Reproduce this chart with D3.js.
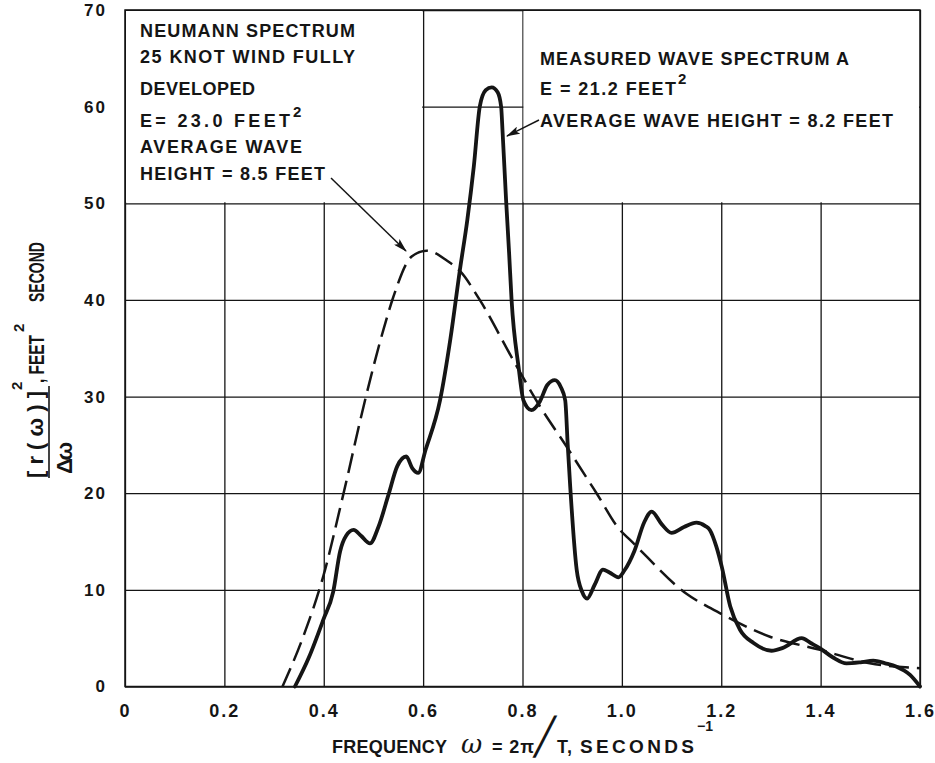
<!DOCTYPE html>
<html>
<head>
<meta charset="utf-8">
<script src="https://cdn.jsdelivr.net/npm/d3@7"></script>
<style>
  body { margin: 0; background: #fff; }
</style>
</head>
<body>
<svg id="chart" width="935" height="763"></svg>
<script>
// Axis ticks
const xTicks = [0, 0.2, 0.4, 0.6, 0.8, 1.0, 1.2, 1.4, 1.6];
const xTickLabels = ["0", "0.2", "0.4", "0.6", "0.8", "1.0", "1.2", "1.4", "1.6"];
const yTicks = [0, 10, 20, 30, 40, 50, 60, 70];
const yTickLabels = ["0", "10", "20", "30", "40", "50", "60", "70"];

// Measured wave spectrum A (solid)
const measuredFreq = [0.342, 0.37, 0.399, 0.419, 0.433, 0.445, 0.460, 0.475, 0.493, 0.510, 0.530, 0.548, 0.566, 0.578, 0.590,
  0.605, 0.634, 0.655, 0.674, 0.689, 0.702, 0.714, 0.726, 0.738, 0.750, 0.757, 0.760, 0.767, 0.773, 0.778, 0.792, 0.802,
  0.818, 0.835, 0.850, 0.865, 0.877, 0.886, 0.891, 0.896, 0.909, 0.920, 0.930, 0.945, 0.962, 0.975, 0.993, 1.005, 1.025,
  1.045, 1.060, 1.080, 1.100, 1.125, 1.150, 1.168, 1.177, 1.190, 1.201, 1.218, 1.238, 1.265, 1.301, 1.324, 1.362, 1.380,
  1.399, 1.425, 1.452, 1.480, 1.506, 1.530, 1.553, 1.580, 1.600];
const measuredValue = [0, 3.0, 6.9, 9.8, 14.0, 15.6, 16.2, 15.6, 14.8, 16.5, 19.8, 22.8, 23.8, 22.6, 22.1,
  24.5, 29.6, 36.0, 43.1, 48.3, 53.8, 60.0, 61.7, 62.0, 61.5, 60.0, 57.3, 50.3, 44.9, 40.0, 33.1, 29.6,
  28.6, 29.5, 31.2, 31.7, 31.0, 29.6, 25.0, 20.7, 12.1, 9.8, 9.1, 10.5, 12.1, 11.8, 11.3, 12.0, 14.0,
  17.0, 18.1, 16.8, 15.9, 16.5, 16.95, 16.6, 16.2, 14.5, 12.4, 8.3, 5.85, 4.5, 3.7, 4.0, 5.0, 4.5,
  3.95, 3.0, 2.4, 2.5, 2.67, 2.4, 2.05, 1.2, 0];

// Neumann spectrum, 25 knot wind fully developed (dashed)
const neumannFreq = [0.317, 0.359, 0.399, 0.439, 0.483, 0.520, 0.540, 0.577, 0.607, 0.647, 0.674, 0.714, 0.781, 0.835,
  0.889, 0.949, 0.996, 1.016, 1.130, 1.197, 1.298, 1.399, 1.499, 1.600];
const neumannValue = [0, 5.2, 11.4, 19.8, 29.6, 36.9, 40.3, 44.5, 45.1, 44.1, 43.0, 40.0, 33.8, 29.0,
  24.8, 20.0, 16.2, 15.2, 9.6, 7.6, 5.15, 3.8, 2.4, 1.9];

const neumannNote = ["NEUMANN SPECTRUM", "25 KNOT WIND FULLY", "DEVELOPED", "E= 23.0 FEET", "AVERAGE WAVE", "HEIGHT = 8.5 FEET"];
const measuredNote = ["MEASURED WAVE SPECTRUM A", "E = 21.2 FEET", "AVERAGE WAVE HEIGHT = 8.2 FEET"];

const svg = d3.select("#chart");
const ink = "#151515";
const SANS = "'Liberation Sans', Arial, sans-serif";

// Bold sans text helper
function label(parent, x0, y0, size, str) {
  return parent.append("text").attr("x", x0).attr("y", y0)
    .style("font-family", SANS).style("font-weight", "bold").style("font-size", size + "px")
    .style("fill", ink).text(str);
}

const x = d3.scaleLinear().domain([0, 1.6]).range([125, 920]);
const y = d3.scaleLinear().domain([0, 70]).range([686.5, 10]);
const plotW = x(1.6) - x(0), plotH = y(0) - y(70);

// Grid + tick labels via axes
const xAxis = svg.append("g")
  .attr("transform", `translate(0,${y(0)})`)
  .call(d3.axisBottom(x).tickValues(xTicks).tickSize(-plotH).tickPadding(18)
    .tickFormat((d, i) => xTickLabels[i]));
const yAxis = svg.append("g")
  .attr("transform", `translate(${x(0)},0)`)
  .call(d3.axisLeft(y).tickValues(yTicks).tickSize(-plotW).tickPadding(18)
    .tickFormat((d, i) => yTickLabels[i]));
[xAxis, yAxis].forEach((a, k) => {
  a.select(".domain").remove();
  a.selectAll(".tick line").attr("stroke", ink).attr("stroke-width", 1.3);
  a.selectAll(".tick text")
    .style("font-family", SANS).style("font-weight", "bold").style("font-size", k === 0 ? "18px" : "17px")
    .style("fill", ink).style("letter-spacing", "2px");
});

// Note boxes (blank out grid inside)
const boxes = [[0, 0.6], [0.8, 1.6]];
boxes.forEach(([a, b]) => {
  svg.append("rect")
    .attr("x", x(a) + 1).attr("y", y(70) + 1)
    .attr("width", x(b) - x(a) - 2).attr("height", y(50) - y(70) - 2)
    .attr("fill", "#fff");
});

// Frame
svg.append("rect").attr("x", x(0)).attr("y", y(70)).attr("width", plotW).attr("height", plotH)
  .attr("fill", "none").attr("stroke", ink).attr("stroke-width", 1.5);

// Curves
const line = d3.line().x(d => x(d[0])).y(d => y(d[1])).curve(d3.curveMonotoneX);
svg.append("path")
  .datum(neumannFreq.map((f, i) => [f, neumannValue[i]]))
  .attr("d", line).attr("fill", "none").attr("stroke", ink)
  .attr("stroke-width", 2.5).attr("stroke-dasharray", "20,8");
svg.append("path")
  .datum(measuredFreq.map((f, i) => [f, measuredValue[i]]))
  .attr("d", line).attr("fill", "none").attr("stroke", ink)
  .attr("stroke-width", 3.8).attr("stroke-linejoin", "round").attr("stroke-linecap", "round");

// Note text
const leftLines = [
  { t: neumannNote[0], by: 37, len: 215 },
  { t: neumannNote[1], by: 63, len: 215 },
  { t: neumannNote[2], by: 95, len: 115 },
  { t: neumannNote[3], by: 127, len: 150, sup: true },
  { t: neumannNote[4], by: 153, len: 162 },
  { t: neumannNote[5], by: 180, len: 185 }
];
leftLines.forEach(l => {
  label(svg, 140, l.by, 18, l.t).attr("textLength", l.len).attr("lengthAdjust", "spacing");
  if (l.sup) label(svg, 140 + l.len + 3, l.by - 10, 15, "2");
});
const rightLines = [
  { t: measuredNote[0], by: 65, len: 309 },
  { t: measuredNote[1], by: 95, len: 136, sup: true },
  { t: measuredNote[2], by: 127, len: 353 }
];
rightLines.forEach(l => {
  label(svg, 540, l.by, 18, l.t).attr("textLength", l.len).attr("lengthAdjust", "spacing");
  if (l.sup) label(svg, 540 + l.len + 2, l.by - 11, 15, "2");
});

// Leader arrows
const defs = svg.append("defs");
defs.append("marker").attr("id", "head").attr("viewBox", "0 0 14 8")
  .attr("refX", 13).attr("refY", 4).attr("markerWidth", 14).attr("markerHeight", 8)
  .attr("markerUnits", "userSpaceOnUse").attr("orient", "auto")
  .append("path").attr("d", "M0,0 L14,4 L0,8 L3,4 Z").attr("fill", ink);
svg.append("line").attr("x1", 331).attr("y1", 178).attr("x2", 406).attr("y2", 251)
  .attr("stroke", ink).attr("stroke-width", 1.5).attr("marker-end", "url(#head)");
svg.append("line").attr("x1", 539).attr("y1", 120).attr("x2", 507).attr("y2", 136)
  .attr("stroke", ink).attr("stroke-width", 1.5).attr("marker-end", "url(#head)");

// X axis title
const xt = svg.append("g");
label(xt, 332, 753, 18, "FREQUENCY").attr("textLength", 115);
label(xt, 461, 753, 26, "ω").style("font-family", "'DejaVu Serif', serif")
  .style("font-style", "italic").style("font-weight", "normal");
label(xt, 492, 753, 18, "= 2π").attr("textLength", 42);
label(xt, 534, 749, 36, "╱").style("font-family", "'DejaVu Sans', sans-serif").style("font-weight", "normal");
label(xt, 557, 753, 18, "T,").attr("textLength", 15);
label(xt, 580, 753, 19, "SECONDS").attr("textLength", 114);
label(xt, 697, 731, 14, "−1");

// Y axis title (rotated)
const yt = svg.append("g").attr("transform", "translate(0,478) rotate(-90)");
label(yt, 0, 43, 22, "[r(ω)]").attr("textLength", 87).attr("lengthAdjust", "spacing");
label(yt, 88, 22, 15, "2");
yt.append("line").attr("x1", 0).attr("x2", 92).attr("y1", 49).attr("y2", 49)
  .attr("stroke", ink).attr("stroke-width", 1.6);
label(yt, 4, 72, 22, "Δω").attr("textLength", 32).attr("lengthAdjust", "spacing");
label(yt, 95, 44, 22, ", FEET").attr("textLength", 48).attr("lengthAdjust", "spacingAndGlyphs");
label(yt, 146, 24, 15, "2");
label(yt, 176, 44, 22, "SECOND").attr("textLength", 60).attr("lengthAdjust", "spacingAndGlyphs");
</script>
</body>
</html>
